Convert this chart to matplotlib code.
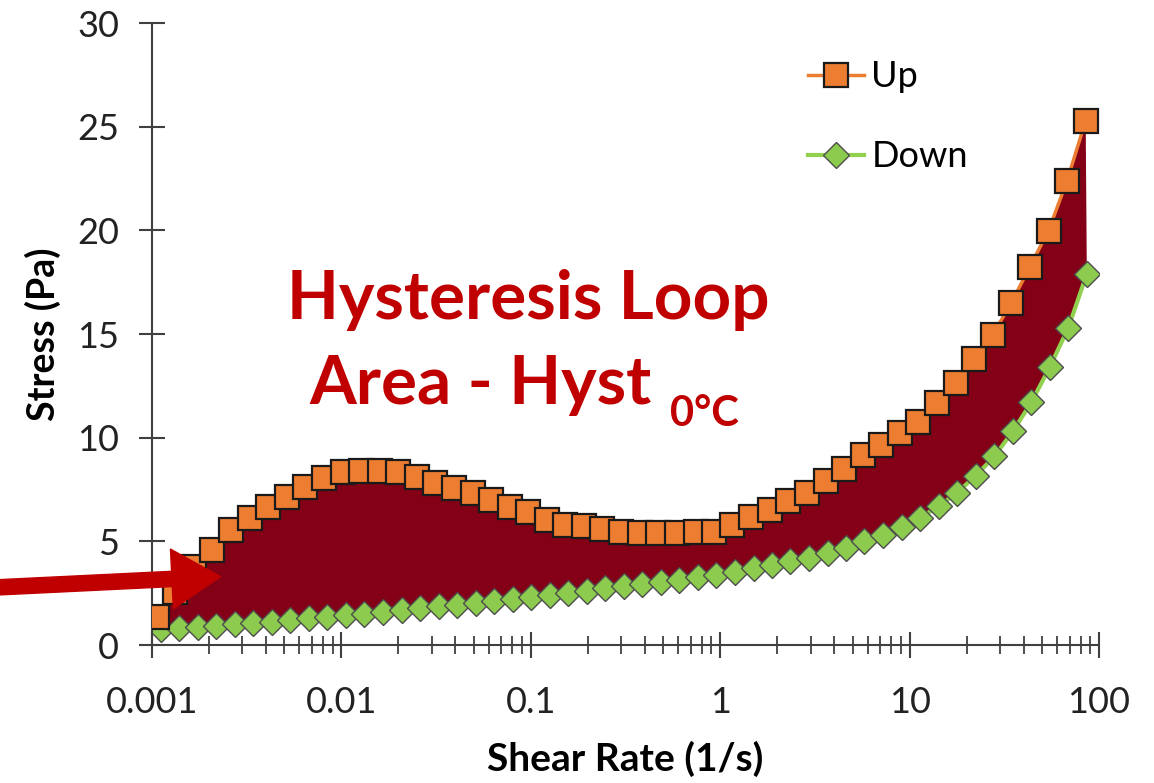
import matplotlib
matplotlib.use('Agg')
import matplotlib.pyplot as plt
from matplotlib.ticker import FixedLocator, FixedFormatter, NullFormatter, LogLocator

# shear rate (1/s) and stress (Pa)
up_rate = [0.00106, 0.00133, 0.00166, 0.00208, 0.00261, 0.00328, 0.00411, 0.00515,
           0.00646, 0.00810, 0.01014, 0.0127, 0.0159, 0.0200, 0.0250, 0.0313, 0.0393,
           0.0493, 0.0618, 0.0774, 0.0971, 0.122, 0.152, 0.191, 0.239, 0.300, 0.376,
           0.472, 0.592, 0.741, 0.929, 1.16, 1.46, 1.83, 2.29, 2.87, 3.60, 4.52, 5.66,
           7.10, 8.89, 11.1, 14.0, 17.5, 21.9, 27.5, 34.5, 43.2, 54.2, 67.9, 85.1]
up_stress = [1.37, 2.57, 3.78, 4.58, 5.55, 6.11, 6.67, 7.15, 7.64, 8.04, 8.33, 8.39,
             8.39, 8.35, 8.12, 7.80, 7.59, 7.32, 6.99, 6.64, 6.43, 6.05, 5.77, 5.75,
             5.60, 5.47, 5.39, 5.39, 5.39, 5.45, 5.47, 5.80, 6.19, 6.50, 6.96, 7.32,
             7.93, 8.47, 9.17, 9.65, 10.21, 10.77, 11.66, 12.62, 13.78, 14.97, 16.51,
             18.25, 19.99, 22.40, 25.29]

down_rate = [0.00111, 0.00139, 0.00175, 0.00218, 0.00274, 0.00343, 0.00430, 0.00538,
             0.00673, 0.00844, 0.01057, 0.01324, 0.0166, 0.0208, 0.0260, 0.0326, 0.0408,
             0.0512, 0.0640, 0.0802, 0.1005, 0.126, 0.158, 0.197, 0.247, 0.310, 0.388,
             0.486, 0.608, 0.762, 0.955, 1.20, 1.50, 1.88, 2.35, 2.94, 3.69, 4.62, 5.78,
             7.24, 9.08, 11.4, 14.3, 17.8, 22.3, 28.0, 35.1, 43.9, 55.0, 68.9, 86.3]
down_stress = [0.76, 0.80, 0.88, 0.93, 1.00, 1.07, 1.13, 1.20, 1.28, 1.36, 1.44, 1.52,
               1.60, 1.68, 1.77, 1.86, 1.95, 2.04, 2.13, 2.23, 2.33, 2.43, 2.53, 2.63,
               2.73, 2.83, 2.93, 3.04, 3.15, 3.27, 3.40, 3.54, 3.70, 3.86, 4.03, 4.22,
               4.44, 4.70, 5.00, 5.30, 5.70, 6.15, 6.70, 7.35, 8.15, 9.10, 10.3, 11.7,
               13.4, 15.3, 17.9]

x_ticks = [0.001, 0.01, 0.1, 1, 10, 100]
x_tick_labels = ['0.001', '0.01', '0.1', '1', '10', '100']
y_ticks = [0, 5, 10, 15, 20, 25, 30]

plt.rcParams['font.family'] = ['Lato', 'DejaVu Sans']

fig = plt.figure(figsize=(11.54, 7.83), dpi=100)
ax = fig.add_axes([0.1317, 0.1762, 0.8206, 0.7944])

# hysteresis area between the two curves
ax.fill(up_rate + down_rate[::-1], up_stress + down_stress[::-1],
        color='#840016', lw=0, zorder=1)

ax.plot(up_rate, up_stress, color='#ED7D31', lw=2.5, marker='s', ms=17,
        mfc='#ED7D31', mec='#1a1a1a', mew=1.6, label='Up', zorder=3)
ax.plot(down_rate, down_stress, color='#92D050', lw=3, marker='D', ms=13,
        mfc='#8CCB4E', mec='#4d4d4d', mew=1.0, label='Down', zorder=2)

ax.set_xscale('log')
ax.set_xlim(0.001, 100)
ax.set_ylim(0, 30)
ax.xaxis.set_major_locator(FixedLocator(x_ticks))
ax.xaxis.set_major_formatter(FixedFormatter(x_tick_labels))
ax.xaxis.set_minor_locator(LogLocator(base=10, subs=range(2, 10)))
ax.xaxis.set_minor_formatter(NullFormatter())
ax.set_yticks(y_ticks)

for side in ['top', 'right']:
    ax.spines[side].set_visible(False)
for side in ['left', 'bottom']:
    ax.spines[side].set_color('#404040')
    ax.spines[side].set_linewidth(1.5)

ax.tick_params(which='major', direction='inout', length=19, width=1.5,
               color='#404040', labelsize=26, labelcolor='#222222')
ax.tick_params(which='minor', direction='inout', length=13, width=1.3, color='#404040')
ax.tick_params(axis='y', pad=14)
ax.tick_params(axis='x', pad=20)

ax.set_xlabel('Shear Rate (1/s)', fontsize=28, fontweight='bold', labelpad=16)
ax.set_ylabel('Stress (Pa)', fontsize=27, fontweight='bold', labelpad=12)

ax.legend(loc='upper left', bbox_to_anchor=(0.693, 0.94), frameon=False,
          fontsize=26, numpoints=1, handlelength=1.55, handletextpad=0.2,
          labelspacing=1.3, borderpad=0, borderaxespad=0)

red = '#C00000'
ax.text(0.397, 0.555, 'Hysteresis Loop', transform=ax.transAxes, color=red,
        fontsize=48.5, fontweight='bold', ha='center', va='center')
ax.text(0.347, 0.418, 'Area - Hyst', transform=ax.transAxes, color=red,
        fontsize=48.5, fontweight='bold', ha='center', va='center')
ax.text(0.583, 0.372, '0°C', transform=ax.transAxes, color=red,
        fontsize=30, fontweight='bold', ha='center', va='center')

ax.annotate('', xy=(0.0023, 3.3), xycoords='data',
            xytext=(0.0, 0.25), textcoords='figure fraction',
            arrowprops=dict(arrowstyle='simple,head_length=3.5,head_width=4.3,tail_width=1.1',
                            mutation_scale=10, color=red, shrinkA=0, shrinkB=0),
            annotation_clip=False, zorder=6)

plt.savefig('out.png', dpi=100)
plt.close()
